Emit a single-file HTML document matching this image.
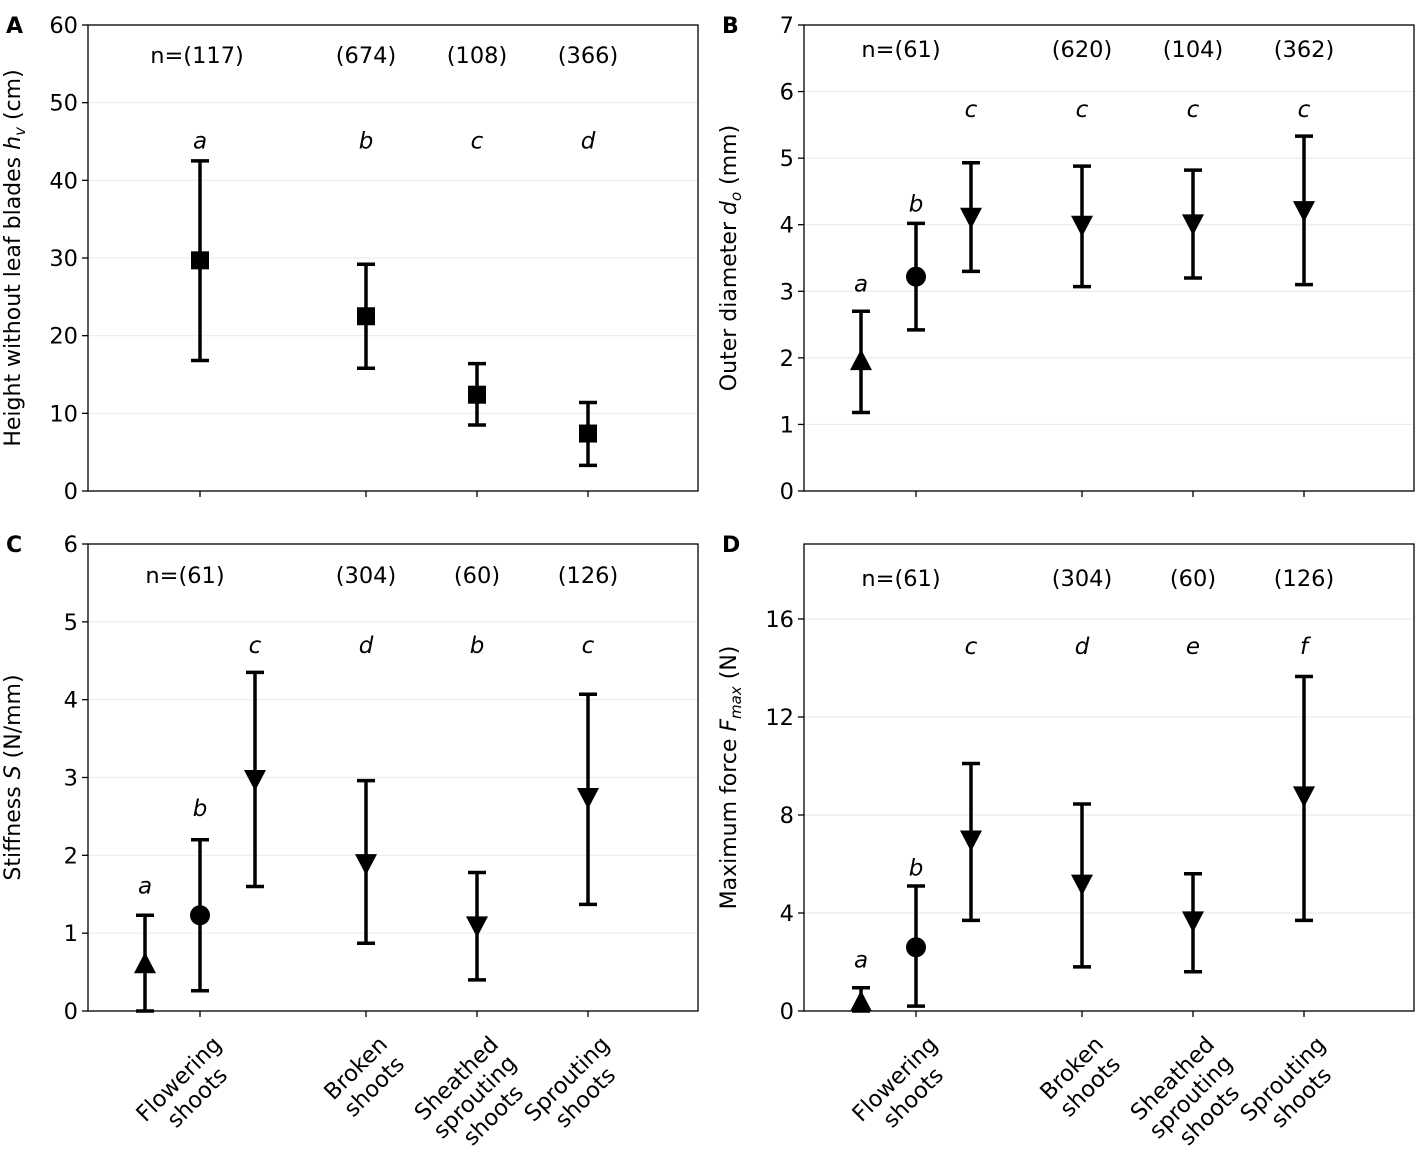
<!DOCTYPE html>
<html><head><meta charset="utf-8">
<style>
body{margin:0;background:#fff;}
svg{display:block;font-family:"DejaVu Sans","Liberation Sans",sans-serif;}
</style></head>
<body>
<svg id="fig" width="1418" height="1155" viewBox="0 0 1418 1155"></svg>
<script>
// ---- data ----
const categories = ["Flowering\nshoots","Broken\nshoots","Sheathed\nsprouting\nshoots","Sprouting\nshoots"];
const aMean = [29.7, 22.5, 12.4, 7.4];
const aLo = [16.8, 15.8, 8.5, 3.3];
const aHi = [42.5, 29.2, 16.4, 11.4];
const aN = ["n=(117)","(674)","(108)","(366)"];
const aLetters = ["a","b","c","d"];
const aLetterY = [45.1, 45.1, 45.1, 45.1];

const bMean = [1.95, 3.22, 4.12, 4.0, 4.02, 4.22];
const bLo = [1.18, 2.42, 3.3, 3.07, 3.2, 3.1];
const bHi = [2.7, 4.02, 4.93, 4.88, 4.82, 5.33];
const bN = ["n=(61)","(620)","(104)","(362)"];
const bLetters = ["a","b","c","c","c","c"];
const bLetterY = [3.12, 4.32, 5.74, 5.74, 5.74, 5.74];

const cMean = [0.6, 1.23, 2.98, 1.9, 1.1, 2.75];
const cLo = [0.0, 0.26, 1.6, 0.87, 0.4, 1.37];
const cHi = [1.23, 2.2, 4.35, 2.96, 1.78, 4.07];
const cN = ["n=(61)","(304)","(60)","(126)"];
const cLetters = ["a","b","c","d","b","c"];
const cLetterY = [1.61, 2.61, 4.7, 4.7, 4.7, 4.7];

const dMean = [0.35, 2.6, 7.0, 5.2, 3.7, 8.8];
const dLo = [0.0, 0.2, 3.7, 1.8, 1.6, 3.7];
const dHi = [0.95, 5.1, 10.1, 8.45, 5.6, 13.65];
const dN = ["n=(61)","(304)","(60)","(126)"];
const dLetters = ["a","b","c","d","e","f"];
const dLetterY = [2.1, 5.85, 14.9, 14.9, 14.9, 14.9];

const sixPos = [-0.33, 0, 0.33, 1, 2, 3];
const svg = document.getElementById('fig');
const NS = 'http://www.w3.org/2000/svg';
function el(tag, attrs, parent){const e=document.createElementNS(NS,tag);for(const k in attrs)e.setAttribute(k,attrs[k]);(parent||svg).appendChild(e);return e;}

function panel(cfg){
  const {L,R,T,B,ymax,ticks,mean,lo,hi,ns,letters,letterY,markers,pos,nY,label,ylabel,showX,name}=cfg;
  const g=el('g',{});
  
  
  const catX=[L+112,L+278,L+389,L+500];
  const step=55;
  const xOf=p=>{
    if(p<0) return catX[0]+p/0.33*step;
    return catX[Math.round(p)] + (p-Math.round(p))/0.33*step;
  };
  const y=v=>B-(v/ymax)*(B-T);
  ticks.forEach(t=>{const l=el('line',{x1:L,x2:R,y1:y(t),y2:y(t),stroke:'#ececec','stroke-width':1.2},g);
    });
  const fr=el('rect',{x:L,y:T,width:R-L,height:B-T,fill:'none',stroke:'#000','stroke-width':1.3},g);
  
  ticks.forEach(t=>{el('line',{x1:L-6,x2:L,y1:y(t),y2:y(t),stroke:'#000','stroke-width':1.3},g);
    const tx=el('text',{x:L-10,y:y(t)+8,'text-anchor':'end','font-size':22.5},g);tx.textContent=t;
    });
  catX.forEach((cx,i)=>{el('line',{x1:cx,x2:cx,y1:B,y2:B+6,stroke:'#000','stroke-width':1.3},g);});
  ns.forEach((s,i)=>{const t=el('text',{x:catX[i]+(i==0?(pos.length>4?-15:-3):0),y:nY,'text-anchor':'middle','font-size':22.5},g);t.textContent=s;
    });
  mean.forEach((m,i)=>{
    const x=xOf(pos[i]);
    const e=el('g',{},g);
    
    
    el('line',{x1:x,x2:x,y1:y(lo[i]),y2:y(hi[i]),stroke:'#000','stroke-width':3.5},e);
    el('line',{x1:x-9,x2:x+9,y1:y(lo[i]),y2:y(lo[i]),stroke:'#000','stroke-width':3.5},e);
    el('line',{x1:x-9,x2:x+9,y1:y(hi[i]),y2:y(hi[i]),stroke:'#000','stroke-width':3.5},e);
    const my=y(m), mk=markers[i];
    if(mk=='s') el('rect',{x:x-9,y:my-9,width:18,height:18,fill:'#000'},e);
    else if(mk=='o') el('circle',{cx:x,cy:my,r:10,fill:'#000'},e);
    else if(mk=='^') el('polygon',{points:`${x},${my-12} ${x-11},${my+9} ${x+11},${my+9}`,fill:'#000'},e);
    else el('polygon',{points:`${x},${my+12} ${x-11},${my-9} ${x+11},${my-9}`,fill:'#000'},e);
    const lt=el('text',{x:x,y:y(letterY[i])+8,'text-anchor':'middle','font-size':23,'font-style':'italic'},g);lt.textContent=letters[i];
    
  });
  const pl=el('text',{x:L-82,y:T+8,'font-size':22,'font-weight':'bold'},g);pl.textContent=label;
  
  const yl=el('text',{transform:`translate(${L-68},${(T+B)/2}) rotate(-90)`,'text-anchor':'middle','font-size':22},g);
  yl.innerHTML=ylabel;
  
  if(showX){
    catX.forEach((cx,i)=>{
      const lines=categories[i].split('\n');
      const tg=el('g',{},g);
      
      
      const inner=el('g',{},tg);
      const ts=lines.map((s,k)=>{const t=el('text',{x:0,y:k*26,'text-anchor':'middle','font-size':22.5},inner);t.textContent=s;return t;});
      let w=0;ts.forEach(t=>{w=Math.max(w,t.getComputedTextLength());});
      inner.setAttribute('transform',`translate(${-w/2},${18})`);
      tg.setAttribute('transform',`translate(${cx+10},${B+22}) rotate(-45)`);
    });
  }
}

panel({name:'panel-a',L:88,R:698,T:25,B:491,ymax:60,ticks:[0,10,20,30,40,50,60],mean:aMean,lo:aLo,hi:aHi,ns:aN,letters:aLetters,letterY:aLetterY,markers:['s','s','s','s'],pos:[0,1,2,3],nY:63,label:'A',ylabel:'Height without leaf blades <tspan font-style="italic">h</tspan><tspan font-style="italic" font-size="15" dy="5">v</tspan><tspan dy="-5"> (cm)</tspan>',showX:false});
panel({name:'panel-b',L:804,R:1414,T:25,B:491,ymax:7,ticks:[0,1,2,3,4,5,6,7],mean:bMean,lo:bLo,hi:bHi,ns:bN,letters:bLetters,letterY:bLetterY,markers:['^','o','v','v','v','v'],pos:sixPos,nY:57,label:'B',ylabel:'Outer diameter <tspan font-style="italic">d</tspan><tspan font-style="italic" font-size="15" dy="5">o</tspan><tspan dy="-5"> (mm)</tspan>',showX:false});
panel({name:'panel-c',L:88,R:698,T:544,B:1011,ymax:6,ticks:[0,1,2,3,4,5,6],mean:cMean,lo:cLo,hi:cHi,ns:cN,letters:cLetters,letterY:cLetterY,markers:['^','o','v','v','v','v'],pos:sixPos,nY:583,label:'C',ylabel:'Stiffness <tspan font-style="italic">S</tspan> (N/mm)',showX:true});
panel({name:'panel-d',L:804,R:1414,T:544,B:1011,ymax:19.06,ticks:[0,4,8,12,16],mean:dMean,lo:dLo,hi:dHi,ns:dN,letters:dLetters,letterY:dLetterY,markers:['^','o','v','v','v','v'],pos:sixPos,nY:586,label:'D',ylabel:'Maximum force <tspan font-style="italic">F</tspan><tspan font-style="italic" font-size="15" dy="5">max</tspan><tspan dy="-5"> (N)</tspan>',showX:true});
</script>
</body></html>
